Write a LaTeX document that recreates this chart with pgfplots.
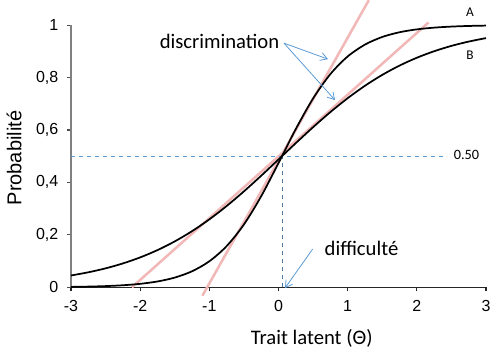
\documentclass[border=0pt]{standalone}
\usepackage{pgfplots}
\pgfplotsset{compat=1.18}
\usepackage{fontspec}
\setmainfont{Carlito}
\newfontfamily\arial{Liberation Sans}
\usetikzlibrary{arrows.meta}
\definecolor{tang}{HTML}{F2B8B8}
\definecolor{offblue}{HTML}{5B9BD5}
\begin{document}
\begin{tikzpicture}
\useasboundingbox (-53.25pt,-51.5pt) rectangle (321.75pt,215.5pt);
\begin{axis}[
  scale only axis, width=311.25pt, height=196.7pt,
  xmin=-3, xmax=3, ymin=0, ymax=1,
  axis x line=bottom, axis y line=left,
  axis line style={-},
  x axis line style={black!85, line width=0.8pt},
  y axis line style={black!50, line width=1.4pt},
  xtick={-3,-2,-1,0,1,2,3},
  xticklabels={-3,-2,-1,0,1,2,3},
  ytick={0,0.2,0.4,0.6,0.8,1},
  yticklabels={0,{0,2},{0,4},{0,6},{0,8},1},
  tick align=outside, major tick length=3pt,
  xtick style={black!85, line width=0.8pt},
  ytick style={black!70, line width=0.8pt},
  ticklabel style={font=\arial\fontsize{12}{12}\selectfont},
  xticklabel style={yshift=-3pt},
  yticklabel style={xshift=-3pt},
  clip=false,
]
\addplot[tang, line width=1.9pt] coordinates {(-2.12,0) (2.17,1.01)};
\addplot[tang, line width=1.9pt] coordinates {(-1.10,-0.032) (1.306,1.095)};
\addplot[offblue, dashed, line width=0.6pt] coordinates {(-3,0.5) (2.38,0.5)};
\addplot[offblue!80!black, dashed, line width=0.6pt] coordinates {(0.05,0) (0.05,0.5)};
\addplot[black, line width=1.3pt, smooth] coordinates {
(-3,0.00165) (-2.75,0.00279) (-2.5,0.00470) (-2.25,0.00792) (-2,0.01332)
(-1.75,0.02231) (-1.5,0.03715) (-1.25,0.06122) (-1,0.0993) (-0.75,0.1571)
(-0.5,0.2396) (-0.25,0.3475) (0,0.4738) (0.25,0.6035) (0.5,0.7201)
(0.75,0.8131) (1,0.8803) (1.25,0.9255) (1.5,0.9546) (1.75,0.9726)
(2,0.9836) (2.25,0.9902) (2.5,0.9942) (2.75,0.9966) (3,0.9980)};
\addplot[black, line width=1.3pt, smooth] coordinates {
(-3,0.0452) (-2.75,0.0573) (-2.5,0.0724) (-2.25,0.0911) (-2,0.1141)
(-1.75,0.1419) (-1.5,0.1751) (-1.25,0.2142) (-1,0.2592) (-0.75,0.3100)
(-0.5,0.3659) (-0.25,0.4256) (0,0.4875) (0.25,0.5498) (0.5,0.6106)
(0.75,0.6682) (1,0.7211) (1.25,0.7685) (1.5,0.8100) (1.75,0.8455)
(2,0.8754) (2.25,0.9002) (2.5,0.9206) (2.75,0.9370) (3,0.9503)};
\draw[offblue, line width=0.6pt, -{Straight Barb[length=5pt,width=6pt]}] (axis cs:0.079,0.931) -- (axis cs:0.716,0.870);
\draw[offblue, line width=0.6pt, -{Straight Barb[length=5pt,width=6pt]}] (axis cs:0.079,0.931) -- (axis cs:0.817,0.714);
\draw[offblue, line width=0.6pt, -{Straight Barb[length=5pt,width=6pt]}] (axis cs:0.494,0.146) -- (axis cs:0.094,-0.003);
\node[anchor=base, font=\fontsize{15.5}{15.5}\selectfont, inner sep=0pt] at (axis cs:-0.853,0.911) {discrimination};
\node[anchor=base, font=\fontsize{15.5}{15.5}\selectfont, inner sep=0pt] at (axis cs:1.2,0.123) {difficulté};
\node[font=\fontsize{10.7}{10.7}\selectfont, inner sep=0pt] at (axis cs:2.718,0.504) {0.50};
\node[font=\fontsize{10}{10}\selectfont, inner sep=0pt] at (axis cs:2.768,1.05) {A};
\node[font=\fontsize{10}{10}\selectfont, inner sep=0pt] at (axis cs:2.768,0.886) {B};
\node[font=\fontsize{15.5}{15.5}\selectfont, inner sep=0pt] at (axis description cs:0.58,-0.193) {Trait latent (Θ)};
\node[font=\arial\fontsize{15}{15}\selectfont, inner sep=0pt, rotate=90] at (axis description cs:-0.137,0.493) {Probabilité};
\end{axis}
\end{tikzpicture}
\end{document}
